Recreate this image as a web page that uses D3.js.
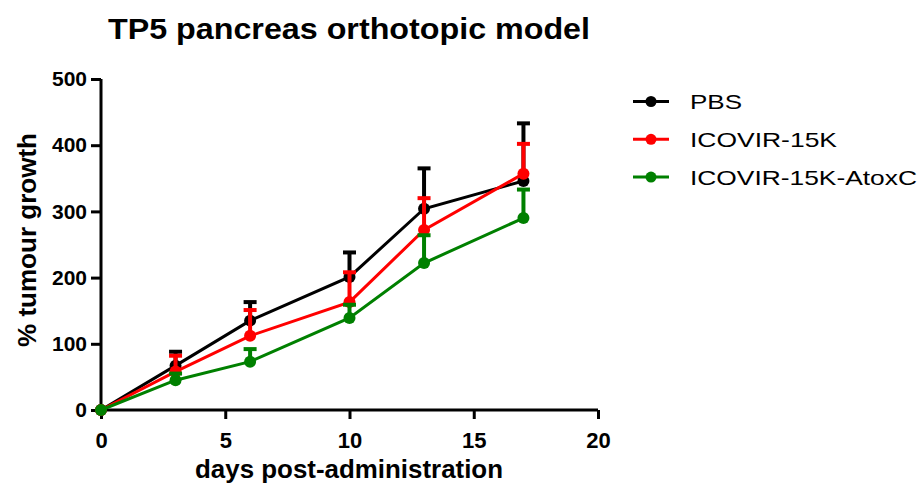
<!DOCTYPE html>
<html><head><meta charset="utf-8">
<script src="https://cdn.jsdelivr.net/npm/d3@7"></script>
<style>body{margin:0;background:#fff}svg{display:block}text{font-family:"Liberation Sans",Arial,sans-serif}</style>
</head><body>
<svg id="c" width="924" height="486"></svg>
<script>
const days = [0, 3, 6, 10, 13, 17];
const seriesNames = ["PBS", "ICOVIR-15K", "ICOVIR-15K-AtoxC"];
const seriesColors = ["#000000", "#ff0000", "#008000"];
const pbsMean = [0, 67, 135, 201, 304, 346];
const pbsUpper = [0, 88, 163, 238, 365, 433];
const icovirMean = [0, 58, 112, 163, 272, 357];
const icovirUpper = [0, 82, 151, 208, 320, 402];
const atoxMean = [0, 45, 73, 139, 222, 290];
const atoxUpper = [0, 55, 92, 159, 264, 333];
const xTicks = [0, 5, 10, 15, 20];
const yTicks = [0, 100, 200, 300, 400, 500];

const series = [
  {name: seriesNames[0], color: seriesColors[0], mean: pbsMean, upper: pbsUpper},
  {name: seriesNames[1], color: seriesColors[1], mean: icovirMean, upper: icovirUpper},
  {name: seriesNames[2], color: seriesColors[2], mean: atoxMean, upper: atoxUpper}
];
const legendWidths = [52, 147, 227];

const svg = d3.select("#c");
const x = d3.scaleLinear().domain([0, 20]).range([101, 598]);
const y = d3.scaleLinear().domain([0, 500]).range([410, 79]);

// title
svg.append("text").attr("x", 108).attr("y", 39)
  .attr("font-size", 29).attr("font-weight", "bold")
  .attr("textLength", 482).attr("lengthAdjust", "spacingAndGlyphs")
  .text("TP5 pancreas orthotopic model");

// axes
const xa = svg.append("g").attr("transform", "translate(0,410)")
  .call(d3.axisBottom(x).tickValues(xTicks).tickSize(9).tickPadding(13));
const ya = svg.append("g").attr("transform", "translate(101,0)")
  .call(d3.axisLeft(y).tickValues(yTicks).tickSize(10).tickPadding(4));
[xa, ya].forEach(a => {
  a.select(".domain").attr("stroke", "#000").attr("stroke-width", 3);
  a.selectAll(".tick line").attr("stroke", "#000").attr("stroke-width", 3);
  a.selectAll(".tick text").attr("font-weight", "bold")
    .attr("fill", "#000").style("font-family", '"Liberation Sans",Arial,sans-serif');
});
xa.selectAll(".tick text").attr("font-size", 22);
ya.selectAll(".tick text").attr("font-size", 21);
xa.select(".domain").attr("d", "M" + x(0) + ",0H" + x(20));
ya.select(".domain").attr("d", "M0," + y(0) + "V" + y(500));

svg.append("text").attr("x", 195).attr("y", 478)
  .attr("font-size", 25).attr("font-weight", "bold")
  .attr("textLength", 308).attr("lengthAdjust", "spacingAndGlyphs")
  .text("days post-administration");
svg.append("text").attr("transform", "translate(36,240) rotate(-90)").attr("x", -107)
  .attr("font-size", 25).attr("font-weight", "bold")
  .attr("textLength", 214).attr("lengthAdjust", "spacingAndGlyphs")
  .text("% tumour growth");

const line = d3.line().x((d, i) => x(days[i])).y(d => y(d));

series.forEach(s => {
  const g = svg.append("g");
  days.forEach((d, i) => {
    if (s.upper[i] > s.mean[i]) {
      g.append("line").attr("x1", x(d)).attr("x2", x(d)).attr("y1", y(s.mean[i])).attr("y2", y(s.upper[i]))
        .attr("stroke", s.color).attr("stroke-width", 4);
      g.append("line").attr("x1", x(d) - 6.5).attr("x2", x(d) + 6.5).attr("y1", y(s.upper[i])).attr("y2", y(s.upper[i]))
        .attr("stroke", s.color).attr("stroke-width", 4);
    }
  });
  g.append("path").attr("d", line(s.mean)).attr("fill", "none").attr("stroke", s.color).attr("stroke-width", 3);
  g.selectAll("circle").data(s.mean).join("circle")
    .attr("cx", (d, i) => x(days[i])).attr("cy", d => y(d)).attr("r", 6).attr("fill", s.color);
});

// legend
const lg = svg.append("g");
series.forEach((s, i) => {
  const yy = 101.5 + i * 37.8;
  lg.append("line").attr("x1", 633).attr("x2", 669).attr("y1", yy).attr("y2", yy)
    .attr("stroke", s.color).attr("stroke-width", 3);
  lg.append("circle").attr("cx", 651).attr("cy", yy).attr("r", 5.5).attr("fill", s.color);
  lg.append("text").attr("x", 690).attr("y", yy + 7.5).attr("font-size", 21)
    .attr("textLength", legendWidths[i]).attr("lengthAdjust", "spacingAndGlyphs").text(s.name);
});
</script>
</body></html>
